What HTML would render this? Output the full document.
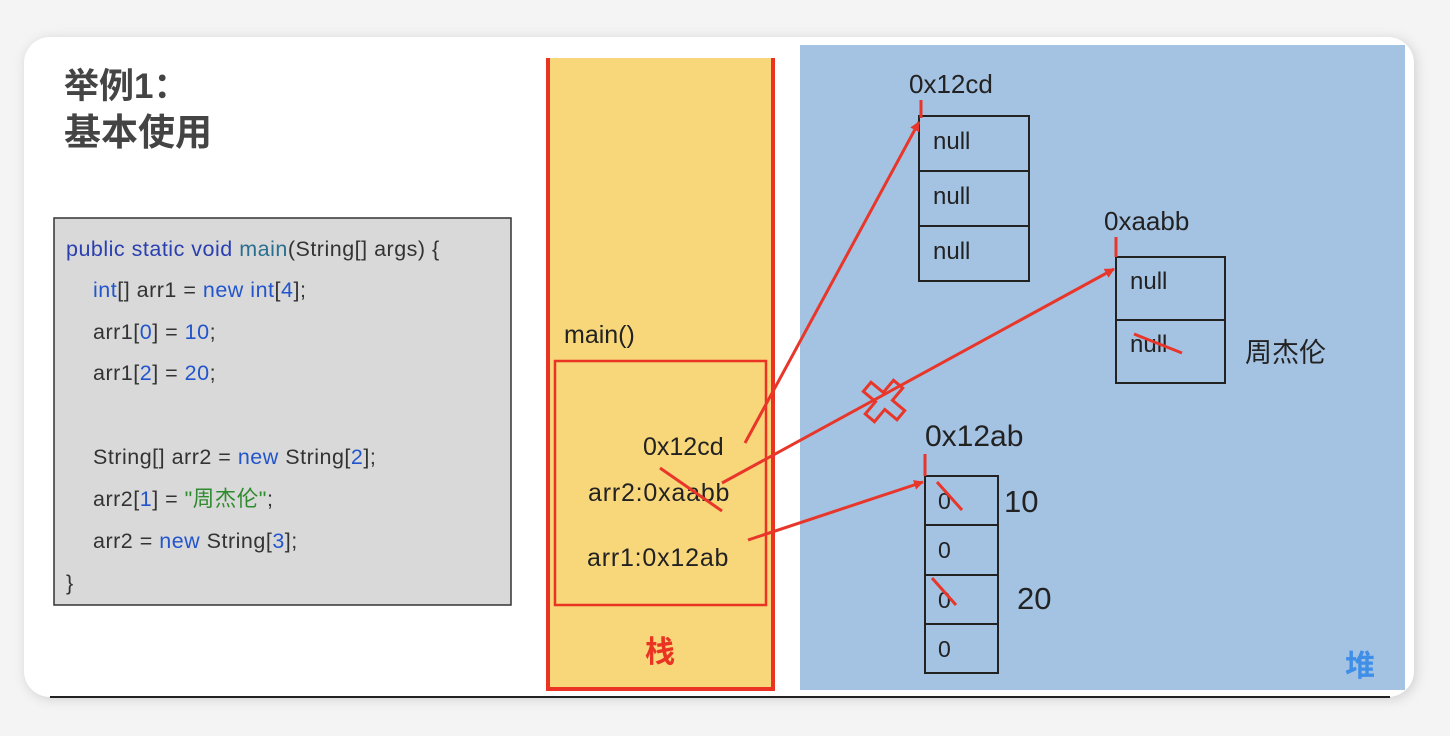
<!DOCTYPE html>
<html><head><meta charset="utf-8"><style>
html,body{margin:0;padding:0;background:#f0f0f0;}
svg{display:block;}
text{font-family:"Liberation Sans","Noto Sans CJK SC",sans-serif;}
</style></head><body>
<svg width="1450" height="736" viewBox="0 0 1450 736" xmlns="http://www.w3.org/2000/svg">
<defs><filter id="sh" x="-5%" y="-5%" width="110%" height="110%"><feGaussianBlur stdDeviation="6"/></filter>
<marker id="ah" markerWidth="10" markerHeight="10" refX="9" refY="5" orient="auto" markerUnits="userSpaceOnUse"><path d="M0,0 L10,5 L0,10 z" fill="#e8372a"/></marker></defs>
<rect x="0" y="0" width="1450" height="736" fill="#f4f4f4"/>
<rect x="26" y="39" width="1390" height="660" rx="26" fill="#cfcfcf" filter="url(#sh)"/>
<rect x="24" y="37" width="1390" height="660" rx="26" fill="#fff"/>
<line x1="50" y1="697" x2="1390" y2="697" stroke="#222" stroke-width="2"/>
<text x="64" y="98" font-size="35" font-weight="bold" fill="#444">举例1：</text>
<text x="64" y="145" font-size="37" font-weight="bold" fill="#444">基本使用</text>
<rect x="54" y="218" width="457" height="387" fill="#d9d9d9" stroke="#333" stroke-width="1.5"/>
<g font-size="21.5" fill="#333" letter-spacing="0.5">
<text x="66" y="256"><tspan fill="#2a3fb0">public static void </tspan><tspan fill="#2a6f8f">main</tspan>(String[] args) {</text>
<text x="93" y="297"><tspan fill="#2255cc">int</tspan>[] arr1 = <tspan fill="#2255cc">new int</tspan>[<tspan fill="#2255cc">4</tspan>];</text>
<text x="93" y="339">arr1[<tspan fill="#2255cc">0</tspan>] = <tspan fill="#2255cc">10</tspan>;</text>
<text x="93" y="380">arr1[<tspan fill="#2255cc">2</tspan>] = <tspan fill="#2255cc">20</tspan>;</text>
<text x="93" y="464">String[] arr2 = <tspan fill="#2255cc">new</tspan> String[<tspan fill="#2255cc">2</tspan>];</text>
<text x="93" y="506">arr2[<tspan fill="#2255cc">1</tspan>] = <tspan fill="#2e8b2e">"周杰伦"</tspan>;</text>
<text x="93" y="548">arr2 = <tspan fill="#2255cc">new</tspan> String[<tspan fill="#2255cc">3</tspan>];</text>
<text x="66" y="590">}</text>
</g>
<rect x="548" y="58" width="225" height="631" fill="#f8d77a"/>
<path d="M548,58 L548,689 L773,689 L773,58" fill="none" stroke="#ea3323" stroke-width="4"/>
<rect x="555" y="361" width="211" height="244" fill="none" stroke="#ea3323" stroke-width="2.5"/>
<g font-size="25" fill="#222">
<text x="564" y="343">main()</text>
<text x="643" y="455">0x12cd</text>
<text x="588" y="501" letter-spacing="0.8">arr2:0xaabb</text>
<text x="587" y="566" letter-spacing="0.8">arr1:0x12ab</text>
</g>
<text x="645" y="662" font-size="30" font-weight="bold" fill="#ea3323">栈</text>
<rect x="800" y="45" width="605" height="645" fill="#a4c2e2"/>
<text x="1345" y="676" font-size="30" font-weight="bold" fill="#3f8fe8">堆</text>
<g fill="none" stroke="#222" stroke-width="2">
<rect x="919" y="116" width="110" height="165"/><line x1="919" y1="171" x2="1029" y2="171"/><line x1="919" y1="226" x2="1029" y2="226"/>
<rect x="1116" y="257" width="109" height="126"/><line x1="1116" y1="320" x2="1225" y2="320"/>
<rect x="925" y="476" width="73" height="197"/><line x1="925" y1="525" x2="998" y2="525"/><line x1="925" y1="575" x2="998" y2="575"/><line x1="925" y1="624" x2="998" y2="624"/>
</g>
<g font-size="24" fill="#222">
<text x="909" y="93" font-size="26">0x12cd</text>
<text x="933" y="149">null</text><text x="933" y="204">null</text><text x="933" y="259">null</text>
<text x="1104" y="230" font-size="26">0xaabb</text>
<text x="1130" y="289">null</text><text x="1130" y="352">null</text>
<text x="1245" y="362" font-size="27">周杰伦</text>
<text x="925" y="446" font-size="30">0x12ab</text>
<text x="938" y="509" font-size="23">0</text><text x="938" y="558" font-size="23">0</text><text x="938" y="608" font-size="23">0</text><text x="938" y="657" font-size="23">0</text>
<text x="1004" y="512" font-size="31">10</text>
<text x="1017" y="609" font-size="31">20</text>
</g>
<g stroke="#e8372a" stroke-width="3" fill="none">
<line x1="921" y1="100" x2="921" y2="118"/>
<line x1="1116" y1="237" x2="1116" y2="257"/>
<line x1="925" y1="454" x2="925" y2="476"/>
<line x1="745" y1="443" x2="919" y2="122" marker-end="url(#ah)"/>
<line x1="722" y1="483" x2="1114" y2="269" marker-end="url(#ah)"/>
<line x1="748" y1="540" x2="923" y2="482" marker-end="url(#ah)"/>
<line x1="660" y1="468" x2="722" y2="511"/>
<line x1="937" y1="482" x2="962" y2="510"/>
<line x1="932" y1="578" x2="956" y2="605"/>
<line x1="1134" y1="334" x2="1182" y2="353"/>
<path transform="translate(884,401) rotate(40)" d="M-6,-22 L6,-22 L6,-6 L22,-6 L22,6 L6,6 L6,22 L-6,22 L-6,6 L-22,6 L-22,-6 L-6,-6 Z" stroke-width="3"/>
</g>
</svg>
</body></html>
